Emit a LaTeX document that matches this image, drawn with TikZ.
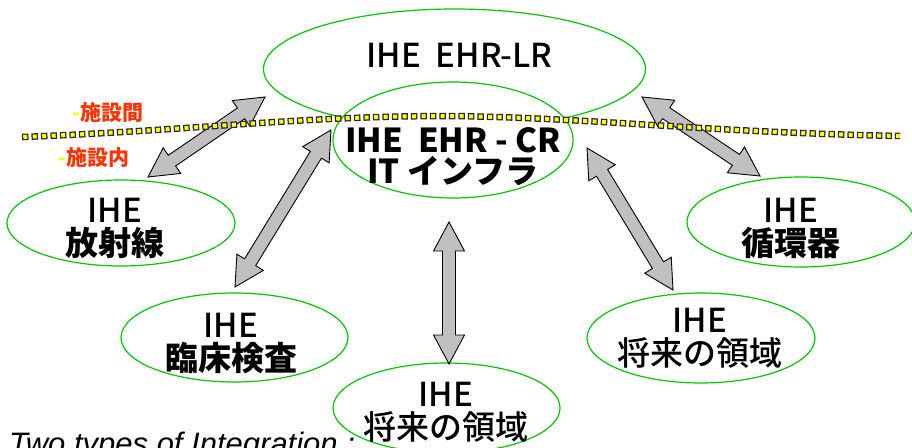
\documentclass[tikz,border=0pt]{standalone}
\usepackage{fontspec}
\setmainfont{Noto Sans CJK JP}
\newfontfamily\heavyfont{Noto Sans CJK JP Medium}
\newfontfamily\captionfont{Liberation Sans}
\usetikzlibrary{shapes.geometric,calc}

\definecolor{ovalgreen}{RGB}{0,200,0}
\definecolor{arrowgray}{RGB}{192,192,192}
\definecolor{siteorange}{RGB}{255,51,0}
\definecolor{dotyellow}{RGB}{255,255,0}

\tikzset{
  oval/.style={ellipse, draw=ovalgreen, line width=1.2pt, fill=white, inner sep=0pt},
  ihe/.style={anchor=north, inner sep=0pt, align=center, font=\heavyfont\fontsize{33}{33}\selectfont},
  blockarrow/.style={fill=arrowgray, draw=black, line width=0.9pt, line join=miter},
  site/.style={anchor=west, inner sep=0pt, text=siteorange, font=\fontsize{21}{21}\selectfont\bfseries}
}

% double block arrow between two named points
\newcommand\twoway[2]{%
  \path ($(#1)!29pt!(#2)$) coordinate (h1) ($(#2)!29pt!(#1)$) coordinate (h2);
  \filldraw[blockarrow] (#1) -- ($(h1)!15.5pt!90:(#2)$) -- ($(h1)!6.5pt!90:(#2)$)
    -- ($(h2)!6.5pt!-90:(#1)$) -- ($(h2)!15.5pt!-90:(#1)$) -- (#2)
    -- ($(h2)!15.5pt!90:(#1)$) -- ($(h2)!6.5pt!90:(#1)$)
    -- ($(h1)!6.5pt!-90:(#2)$) -- ($(h1)!15.5pt!-90:(#2)$) -- cycle;}

\begin{document}
\begin{tikzpicture}[x=1pt,y=-1pt]
    \useasboundingbox (0,0) rectangle (912,447);

    % Ovals, the outer one first
    \node[oval, minimum width=382pt, minimum height=120pt] (lr) at (454.5,69) {};
    \node[oval, minimum width=240pt, minimum height=116pt] (cr) at (453,140) {};
    \node[oval, minimum width=228pt, minimum height=86pt] (rad) at (121,223) {};
    \node[oval, minimum width=227pt, minimum height=89pt] (lab) at (234.5,337.5) {};
    \node[oval, minimum width=228pt, minimum height=90pt] (card) at (801,222) {};
    \node[oval, minimum width=228pt, minimum height=90pt] (futr) at (701,338) {};
    \node[oval, minimum width=227pt, minimum height=90pt] (futb) at (446.5,408) {};

    % Arrow ends
    \coordinate (radend) at (148,177);  \coordinate (lrleft) at (265,97);
    \coordinate (labend) at (235,287);  \coordinate (crleft) at (331,130);
    \coordinate (crlow) at (449,222);   \coordinate (futbend) at (449,364);
    \coordinate (crright) at (587,148); \coordinate (futrend) at (673,290);
    \coordinate (lrright) at (642,97);  \coordinate (cardend) at (760,176);

    \twoway{radend}{lrleft}
    \twoway{labend}{crleft}
    \twoway{crlow}{futbend}
    \twoway{crright}{futrend}
    \twoway{lrright}{cardend}

    % Dotted border line
    \draw[black!85, line width=6.5pt, dash pattern=on 6.5pt off 3pt]
      (22,137) .. controls (200,130) and (300,116) .. (450,116)
      .. controls (600,118) and (700,132) .. (900,136);
    \draw[dotyellow, line width=4pt, dash pattern=on 4pt off 5.5pt, dash phase=8.25pt]
      (22,137) .. controls (200,130) and (300,116) .. (450,116)
      .. controls (600,118) and (700,132) .. (900,136);

    % Labels for the line
    \node[site] (between) at (72,113) {\textcolor{dotyellow}{-}施設間};
    \node[site] (within) at (58,158) {\textcolor{dotyellow}{-}施設内};

    % Texts
    \node[inner sep=0pt, font=\heavyfont\fontsize{33}{33}\selectfont] (lrtext) at (459.5,55) {IHE\ \ EHR-LR};
    \node[ihe, font=\normalfont\fontsize{33}{31}\selectfont\bfseries] (crtext) at (453,127) {IHE\ \ EHR - CR\\IT インフラ};
    \node[ihe] (radtext) at (115,198) {IHE\\{\normalfont\bfseries 放射線}};
    \node[ihe] (labtext) at (231,313) {IHE\\{\normalfont\bfseries 臨床検査}};
    \node[ihe] (cardtext) at (791,198) {IHE\\{\normalfont\bfseries 循環器}};
    \node[ihe] (futrtext) at (700,308) {IHE\\将来の領域};
    \node[ihe] (futbtext) at (446,382) {IHE\\将来の領域};

    % Caption
    \node[anchor=base west, inner sep=0pt, font=\captionfont\itshape\fontsize{31}{31}\selectfont] (caption) at (9,454) {Two types of Integration :};
\end{tikzpicture}
\end{document}
